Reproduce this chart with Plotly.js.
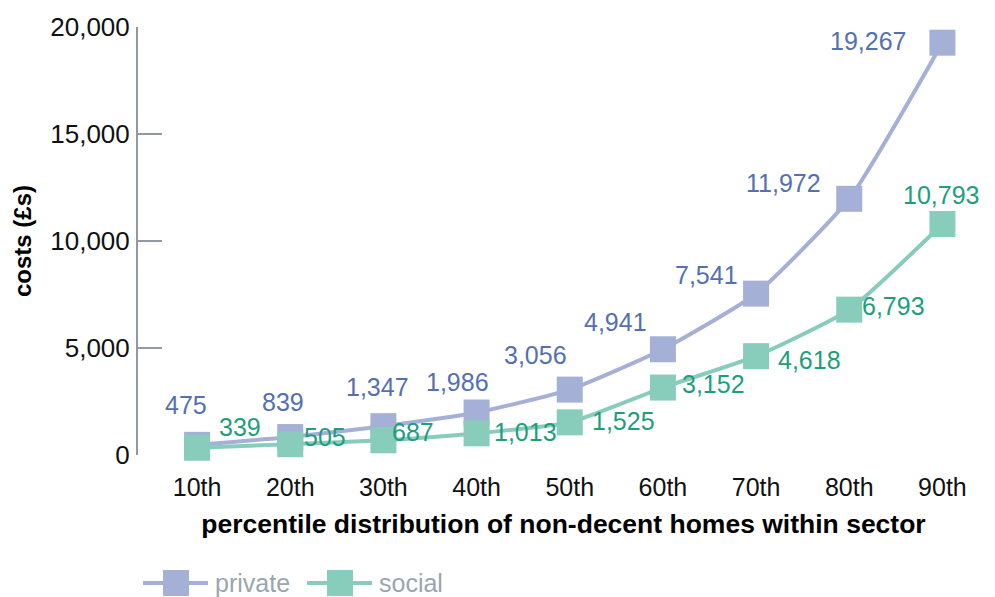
<!DOCTYPE html>
<html><head><meta charset="utf-8">
<script src="https://cdn.plot.ly/plotly-3.0.1.min.js"></script>
<style>body{margin:0;background:#fff}#c{width:995px;height:597px}</style>
</head><body><div id="c"></div>
<script>
const categories = ['10th','20th','30th','40th','50th','60th','70th','80th','90th'];
const privateCosts = [475, 839, 1347, 1986, 3056, 4941, 7541, 11972, 19267];
const socialCosts = [339, 505, 687, 1013, 1525, 3152, 4618, 6793, 10793];
const yTicks = [0, 5000, 10000, 15000, 20000];
const seriesNames = ['private', 'social'];

const privateShift = [[-11,40],[-7,35],[-6,39],[-19,31],[-34,35],[-47,27],[-50,19],[-66,16],[-74,2]];
const socialShift = [[43,21],[35,7],[30,8],[49,1],[54,1],[51,4],[53,-4],[44,4],[-1,29]];

const pCol = '#a5b0d6', pText = '#5470b2';
const sCol = '#88ccbc', sText = '#1e9e7d';
const font = 'Liberation Sans, Arial, sans-serif';

const W = 995, H = 597, M = {l: 138, r: 6, t: 27, b: 142};
const px = x => (x - M.l) / (W - M.l - M.r);
const py = y => (H - M.b - y) / (H - M.t - M.b);

const fmt = v => v.toLocaleString('en-GB');

const traces = [
  {x: categories, y: privateCosts, name: seriesNames[0], type: 'scatter', mode: 'lines+markers',
   line: {color: pCol, width: 4, shape: 'spline', smoothing: 0.5},
   marker: {symbol: 'square', size: 26, color: pCol}, cliponaxis: false},
  {x: categories, y: socialCosts, name: seriesNames[1], type: 'scatter', mode: 'lines+markers',
   line: {color: sCol, width: 4, shape: 'spline', smoothing: 0.5},
   marker: {symbol: 'square', size: 26, color: sCol}, cliponaxis: false}
];

const annotations = [];
categories.forEach((c, i) => {
  annotations.push({x: c, y: privateCosts[i], text: fmt(privateCosts[i]), showarrow: false,
    xshift: privateShift[i][0], yshift: privateShift[i][1], font: {family: font, size: 25, color: pText}});
  annotations.push({x: c, y: socialCosts[i], text: fmt(socialCosts[i]), showarrow: false,
    xshift: socialShift[i][0], yshift: socialShift[i][1], font: {family: font, size: 25, color: sText}});
});

// custom legend
const shapes = [];
const legendItems = [{name: seriesNames[0], col: pCol, x0: 143}, {name: seriesNames[1], col: sCol, x0: 307}];
const ly = 583;
legendItems.forEach(it => {
  shapes.push({type: 'line', xref: 'paper', yref: 'paper', x0: px(it.x0), x1: px(it.x0 + 65), y0: py(ly), y1: py(ly),
    line: {color: it.col, width: 4}});
  shapes.push({type: 'rect', xref: 'paper', yref: 'paper', x0: px(it.x0 + 20), x1: px(it.x0 + 46),
    y0: py(ly - 13), y1: py(ly + 13), line: {width: 0}, fillcolor: it.col});
  annotations.push({xref: 'paper', yref: 'paper', x: px(it.x0 + 70), y: py(ly), xanchor: 'left', yanchor: 'middle',
    text: it.name, showarrow: false, font: {family: font, size: 25, color: '#9aa6ae'}});
});

const layout = {
  width: W, height: H,
  margin: M,
  paper_bgcolor: '#fff', plot_bgcolor: '#fff',
  font: {family: font, size: 24, color: '#111'},
  showlegend: false,
  xaxis: {type: 'category', range: [-0.634, 8.5], showline: false, showgrid: false, zeroline: false,
    ticks: '', ticklabelstandoff: 15, tickfont: {size: 25, color: '#111'}, automargin: false,
    title: {text: 'percentile distribution of non-decent homes within sector', standoff: 14,
      font: {family: font, size: 26.5, color: '#000', weight: 'bold'}}},
  yaxis: {range: [0, 20000], tickvals: yTicks, ticktext: yTicks.map(fmt), automargin: false,
    showline: true, linecolor: '#8f9aa2', linewidth: 2, showgrid: false, zeroline: false,
    ticks: 'inside', ticklen: 24, tickwidth: 2, tickcolor: '#8f9aa2', ticklabelstandoff: 1,
    tickfont: {size: 26, color: '#111'},
    title: {text: 'costs (£s)', standoff: 12, font: {family: font, size: 24, color: '#000', weight: 'bold'}}},
  annotations: annotations,
  shapes: shapes
};

Plotly.newPlot('c', traces, layout, {displayModeBar: false, staticPlot: true});
</script></body></html>
